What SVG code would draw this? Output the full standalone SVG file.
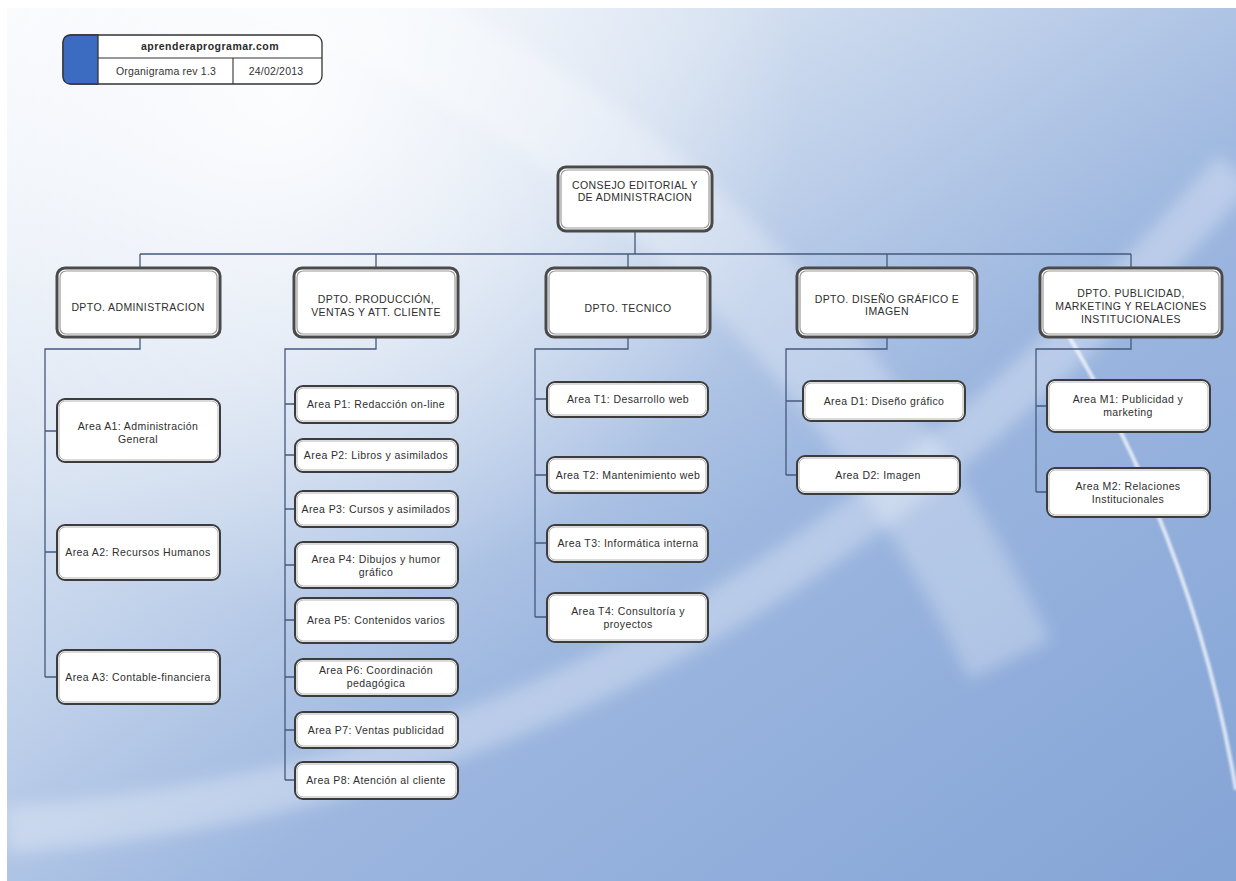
<svg xmlns="http://www.w3.org/2000/svg" width="1236" height="881" viewBox="0 0 1236 881">
<defs>
<linearGradient id="bg" x1="0" y1="0" x2="1" y2="1">
<stop offset="0" stop-color="#f6f8fc"/>
<stop offset="0.3" stop-color="#d3dff0"/>
<stop offset="0.6" stop-color="#9cb6df"/>
<stop offset="1" stop-color="#84a4d6"/>
</linearGradient>
<radialGradient id="glow" cx="280" cy="90" r="520" gradientUnits="userSpaceOnUse">
<stop offset="0" stop-color="#ffffff" stop-opacity="0.9"/>
<stop offset="0.6" stop-color="#ffffff" stop-opacity="0.35"/>
<stop offset="1" stop-color="#ffffff" stop-opacity="0"/>
</radialGradient>
<filter id="soft" x="-20%" y="-20%" width="140%" height="140%">
<feGaussianBlur stdDeviation="8"/>
</filter>
<filter id="soft2" x="-20%" y="-20%" width="140%" height="140%">
<feGaussianBlur stdDeviation="1.2"/>
</filter>
<style>
.t{font-family:"Liberation Sans",Arial,sans-serif;font-size:10.5px;fill:#2e2e2e;text-anchor:middle;letter-spacing:0.4px}
.hb{font-family:"Liberation Sans",Arial,sans-serif;font-size:10.5px;font-weight:bold;fill:#2a2a2a;text-anchor:middle;letter-spacing:0.5px}
.ht{font-family:"Liberation Sans",Arial,sans-serif;font-size:10.5px;fill:#333;text-anchor:middle;letter-spacing:0.2px}
.box{fill:#ffffff;stroke:#3c3c3c;stroke-width:2}
.inner{fill:none;stroke:#b5b5b5;stroke-width:1}
.dbox{fill:#ffffff;stroke:#4a4a4a;stroke-width:3}
.dinner{fill:none;stroke:#9a9a9a;stroke-width:1.2}
.c{fill:none;stroke:#46597c;stroke-width:1.3}
</style>
</defs>
<rect x="0" y="0" width="1236" height="881" fill="#ffffff"/>
<g id="background">
<rect x="7" y="8" width="1229" height="873" fill="url(#bg)"/>
<rect x="7" y="8" width="1229" height="873" fill="url(#glow)"/>
<path d="M 230,-40 Q 760,140 1010,660" fill="none" stroke="#ffffff" stroke-opacity="0.28" stroke-width="90" filter="url(#soft)"/>
<path d="M 7,830 C 420,800 820,640 1236,170" fill="none" stroke="#ffffff" stroke-opacity="0.3" stroke-width="46" filter="url(#soft)"/>
<path d="M 1040,290 Q 1190,520 1236,790" fill="none" stroke="#ffffff" stroke-opacity="0.7" stroke-width="4" filter="url(#soft2)"/>
</g>
<g id="connectors">
<path class="c" d="M635,231 V254 M140,254 H1131 M140,254 V268 M376,254 V268 M628,254 V268 M887,254 V268 M1131,254 V268"/>
<path class="c" d="M140,337 V349 H45 V677 M45,431 H57 M45,552 H57 M45,677 H57"/>
<path class="c" d="M376,337 V349 H285 V780 M285,404 H295 M285,455 H295 M285,509 H295 M285,565 H295 M285,620 H295 M285,677 H295 M285,730 H295 M285,780 H295"/>
<path class="c" d="M628,337 V349 H535 V617 M535,399 H547 M535,475 H547 M535,543 H547 M535,617 H547"/>
<path class="c" d="M887,337 V349 H786 V475 M786,401 H803 M786,475 H797"/>
<path class="c" d="M1131,337 V349 H1036 V492 M1036,406 H1047 M1036,492 H1047"/>
</g>
<g id="header">
<rect x="63" y="35" width="259" height="49" rx="8" fill="#ffffff" stroke="#333" stroke-width="1.3"/>
<path d="M98,35 H71 Q63,35 63,43 V76 Q63,84 71,84 H98 Z" fill="#3b6cc2" stroke="#333" stroke-width="1.3"/>
<path d="M98,58 H322 M233,58 V84" stroke="#333" stroke-width="1.1" fill="none"/>
<text class="hb" x="210" y="50">aprenderaprogramar.com</text>
<text class="ht" x="166" y="75">Organigrama rev 1.3</text>
<text class="ht" x="276" y="75">24/02/2013</text>
</g>
<g id="consejo">
<rect class="dbox" x="558" y="167" width="154" height="64" rx="8"/>
<rect class="dinner" x="561" y="170" width="148" height="58" rx="6"/>
<text class="t" x="635" y="189">CONSEJO EDITORIAL Y</text>
<text class="t" x="635" y="201">DE ADMINISTRACION</text>
</g>
<g id="dpto-admin">
<rect class="dbox" x="57" y="268" width="163" height="69" rx="8"/>
<rect class="dinner" x="60" y="271" width="157" height="63" rx="6"/>
<text class="t" x="138" y="311">DPTO. ADMINISTRACION</text>
</g>
<g id="dpto-produccion">
<rect class="dbox" x="294" y="268" width="164" height="69" rx="8"/>
<rect class="dinner" x="297" y="271" width="158" height="63" rx="6"/>
<text class="t" x="376" y="303">DPTO. PRODUCCIÓN,</text>
<text class="t" x="376" y="316">VENTAS Y ATT. CLIENTE</text>
</g>
<g id="dpto-tecnico">
<rect class="dbox" x="546" y="268" width="164" height="69" rx="8"/>
<rect class="dinner" x="549" y="271" width="158" height="63" rx="6"/>
<text class="t" x="628" y="312">DPTO. TECNICO</text>
</g>
<g id="dpto-diseno">
<rect class="dbox" x="797" y="268" width="180" height="69" rx="8"/>
<rect class="dinner" x="800" y="271" width="174" height="63" rx="6"/>
<text class="t" x="887" y="303">DPTO. DISEÑO GRÁFICO E</text>
<text class="t" x="887" y="315">IMAGEN</text>
</g>
<g id="dpto-publicidad">
<rect class="dbox" x="1040" y="268" width="182" height="69" rx="8"/>
<rect class="dinner" x="1043" y="271" width="176" height="63" rx="6"/>
<text class="t" x="1131" y="297">DPTO. PUBLICIDAD,</text>
<text class="t" x="1131" y="310">MARKETING Y RELACIONES</text>
<text class="t" x="1131" y="323">INSTITUCIONALES</text>
</g>
<g id="area-a1">
<rect class="box" x="57" y="399" width="163" height="63" rx="8"/>
<rect class="inner" x="59" y="401" width="159" height="59" rx="6.5"/>
<text class="t" x="138" y="430">Area A1: Administración</text>
<text class="t" x="138" y="443">General</text>
</g>
<g id="area-a2">
<rect class="box" x="57" y="525" width="163" height="55" rx="8"/>
<rect class="inner" x="59" y="527" width="159" height="51" rx="6.5"/>
<text class="t" x="138" y="556">Area A2: Recursos Humanos</text>
</g>
<g id="area-a3">
<rect class="box" x="57" y="650" width="163" height="54" rx="8"/>
<rect class="inner" x="59" y="652" width="159" height="50" rx="6.5"/>
<text class="t" x="138" y="681">Area A3: Contable-financiera</text>
</g>
<g id="area-p1">
<rect class="box" x="295" y="386" width="163" height="37" rx="8"/>
<rect class="inner" x="297" y="388" width="159" height="33" rx="6.5"/>
<text class="t" x="376" y="408">Area P1: Redacción on-line</text>
</g>
<g id="area-p2">
<rect class="box" x="295" y="439" width="163" height="33" rx="8"/>
<rect class="inner" x="297" y="441" width="159" height="29" rx="6.5"/>
<text class="t" x="376" y="459">Area P2: Libros y asimilados</text>
</g>
<g id="area-p3">
<rect class="box" x="295" y="491" width="163" height="36" rx="8"/>
<rect class="inner" x="297" y="493" width="159" height="32" rx="6.5"/>
<text class="t" x="376" y="513">Area P3: Cursos y asimilados</text>
</g>
<g id="area-p4">
<rect class="box" x="295" y="542" width="163" height="46" rx="8"/>
<rect class="inner" x="297" y="544" width="159" height="42" rx="6.5"/>
<text class="t" x="376" y="563">Area P4: Dibujos y humor</text>
<text class="t" x="376" y="576">gráfico</text>
</g>
<g id="area-p5">
<rect class="box" x="295" y="598" width="163" height="45" rx="8"/>
<rect class="inner" x="297" y="600" width="159" height="41" rx="6.5"/>
<text class="t" x="376" y="624">Area P5: Contenidos varios</text>
</g>
<g id="area-p6">
<rect class="box" x="295" y="659" width="163" height="37" rx="8"/>
<rect class="inner" x="297" y="661" width="159" height="33" rx="6.5"/>
<text class="t" x="376" y="674">Area P6: Coordinación</text>
<text class="t" x="376" y="687">pedagógica</text>
</g>
<g id="area-p7">
<rect class="box" x="295" y="712" width="163" height="36" rx="8"/>
<rect class="inner" x="297" y="714" width="159" height="32" rx="6.5"/>
<text class="t" x="376" y="734">Area P7: Ventas publicidad</text>
</g>
<g id="area-p8">
<rect class="box" x="295" y="762" width="163" height="37" rx="8"/>
<rect class="inner" x="297" y="764" width="159" height="33" rx="6.5"/>
<text class="t" x="376" y="784">Area P8: Atención al cliente</text>
</g>
<g id="area-t1">
<rect class="box" x="547" y="382" width="161" height="35" rx="8"/>
<rect class="inner" x="549" y="384" width="157" height="31" rx="6.5"/>
<text class="t" x="628" y="403">Area T1: Desarrollo web</text>
</g>
<g id="area-t2">
<rect class="box" x="547" y="457" width="161" height="36" rx="8"/>
<rect class="inner" x="549" y="459" width="157" height="32" rx="6.5"/>
<text class="t" x="628" y="479">Area T2: Mantenimiento web</text>
</g>
<g id="area-t3">
<rect class="box" x="547" y="525" width="161" height="37" rx="8"/>
<rect class="inner" x="549" y="527" width="157" height="33" rx="6.5"/>
<text class="t" x="628" y="547">Area T3: Informática interna</text>
</g>
<g id="area-t4">
<rect class="box" x="547" y="593" width="161" height="49" rx="8"/>
<rect class="inner" x="549" y="595" width="157" height="45" rx="6.5"/>
<text class="t" x="628" y="615">Area T4: Consultoría y</text>
<text class="t" x="628" y="628">proyectos</text>
</g>
<g id="area-d1">
<rect class="box" x="803" y="381" width="162" height="40" rx="8"/>
<rect class="inner" x="805" y="383" width="158" height="36" rx="6.5"/>
<text class="t" x="884" y="405">Area D1: Diseño gráfico</text>
</g>
<g id="area-d2">
<rect class="box" x="797" y="456" width="163" height="38" rx="8"/>
<rect class="inner" x="799" y="458" width="159" height="34" rx="6.5"/>
<text class="t" x="878" y="479">Area D2: Imagen</text>
</g>
<g id="area-m1">
<rect class="box" x="1047" y="380" width="163" height="52" rx="8"/>
<rect class="inner" x="1049" y="382" width="159" height="48" rx="6.5"/>
<text class="t" x="1128" y="403">Area M1: Publicidad y</text>
<text class="t" x="1128" y="416">marketing</text>
</g>
<g id="area-m2">
<rect class="box" x="1047" y="468" width="163" height="49" rx="8"/>
<rect class="inner" x="1049" y="470" width="159" height="45" rx="6.5"/>
<text class="t" x="1128" y="490">Area M2: Relaciones</text>
<text class="t" x="1128" y="503">Institucionales</text>
</g>
</svg>
